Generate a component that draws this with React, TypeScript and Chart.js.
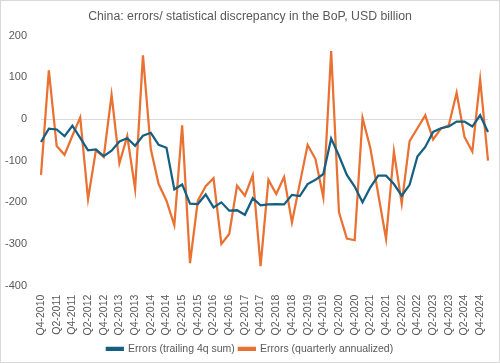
import React, { useEffect, useRef } from "react";
import { Chart, registerables } from "chart.js";

Chart.register(...registerables);

const quarters: string[] = [
  "Q4-2010",
  "Q1-2011", "Q2-2011", "Q3-2011", "Q4-2011",
  "Q1-2012", "Q2-2012", "Q3-2012", "Q4-2012",
  "Q1-2013", "Q2-2013", "Q3-2013", "Q4-2013",
  "Q1-2014", "Q2-2014", "Q3-2014", "Q4-2014",
  "Q1-2015", "Q2-2015", "Q3-2015", "Q4-2015",
  "Q1-2016", "Q2-2016", "Q3-2016", "Q4-2016",
  "Q1-2017", "Q2-2017", "Q3-2017", "Q4-2017",
  "Q1-2018", "Q2-2018", "Q3-2018", "Q4-2018",
  "Q1-2019", "Q2-2019", "Q3-2019", "Q4-2019",
  "Q1-2020", "Q2-2020", "Q3-2020", "Q4-2020",
  "Q1-2021", "Q2-2021", "Q3-2021", "Q4-2021",
  "Q1-2022", "Q2-2022", "Q3-2022", "Q4-2022",
  "Q1-2023", "Q2-2023", "Q3-2023", "Q4-2023",
  "Q1-2024", "Q2-2024", "Q3-2024", "Q4-2024",
  "Q1-2025",
];

const trailing4q: number[] = [
  -55, -23, -25, -41, -16, -45, -75, -73, -89, -76,
  -54, -46, -64, -40, -33, -62, -69, -169, -157, -203,
  -204, -181, -212, -200, -220, -219, -230, -190, -207, -205,
  -204, -205, -182, -185, -156, -146, -132, -47, -88, -134,
  -162, -200, -164, -136, -136, -156, -184, -158, -90, -67,
  -31, -22, -18, -6, -6, -18, 9, -31,
];

const quarterlyAnnualized: number[] = [
  -134, 117, -65, -86, -40, 4, -192, -75, -91, 58,
  -106, -41, -168, 153, -72, -156, -196, -255, -15, -346,
  -196, -161, -142, -300, -276, -160, -184, -135, -353, -146,
  -180, -139, -248, -155, -62, -96, -188, 163, -224, -287,
  -291, 3, -70, -180, -288, -78, -203, -53, -22, 9,
  -49, -23, -15, 63, -43, -78, 95, -100,
];

const titleText = "China: errors/ statistical discrepancy in the BoP, USD billion";
const seriesNames = ["Errors (trailing 4q sum)", "Errors (quarterly annualized)"];
const yMin = -400;
const yMax = 200;
const yStep = 100;

const FONT = "'Liberation Sans', Arial, sans-serif";
const TEXT = "#595959";

export default function App() {
  const ref = useRef<HTMLCanvasElement | null>(null);

  useEffect(() => {
    document.body.style.margin = "0";
    const canvas = ref.current;
    if (!canvas) return;
    const chart = new Chart(canvas, {
      type: "line",
      data: {
        labels: quarters,
        datasets: [
          {
            label: seriesNames[0],
            data: trailing4q,
            borderColor: "#156082",
            backgroundColor: "#156082",
            borderWidth: 2.25,
            pointRadius: 0,
            tension: 0,
          },
          {
            label: seriesNames[1],
            data: quarterlyAnnualized,
            borderColor: "#E97132",
            backgroundColor: "#E97132",
            borderWidth: 2.25,
            pointRadius: 0,
            tension: 0,
          },
        ],
      },
      options: {
        responsive: false,
        animation: false,
        maintainAspectRatio: false,
        layout: { padding: { left: 0, right: 0, top: 0, bottom: -2 } },
        plugins: {
          title: {
            display: true,
            text: titleText,
            color: TEXT,
            font: { family: FONT, size: 12.3, weight: "normal" },
            padding: { top: 8, bottom: 12 },
          },
          legend: {
            position: "bottom",
            labels: {
              color: TEXT,
              font: { family: FONT, size: 10.5 },
              boxWidth: 16,
              boxHeight: 2,
              padding: 4,
            },
          },
          tooltip: { enabled: false },
        },
        scales: {
          x: {
            type: "category",
            offset: false,
            grid: { display: false },
            border: { display: false },
            afterFit: (s: any) => {
              s.paddingRight = 11;
              s.paddingLeft = 0;
              s.height = s.height + 3;
            },
            ticks: {
              autoSkip: false,
              minRotation: 90,
              maxRotation: 90,
              color: TEXT,
              font: { family: FONT, size: 10.5 },
              padding: 1,
              callback: (_v: any, i: number) => (i % 2 === 0 ? quarters[i] : ""),
            },
          },
          y: {
            min: yMin,
            max: yMax,
            border: { display: false },
            afterFit: (s: any) => {
              s.width = 40;
            },
            grid: {
              drawTicks: false,
              color: (c: any) => (c.tick && c.tick.value === 0 ? "#d9d9d9" : "rgba(0,0,0,0)"),
              lineWidth: 1,
            },
            ticks: {
              stepSize: yStep,
              color: TEXT,
              font: { family: FONT, size: 11 },
              padding: 14,
            },
          },
        },
      },
    });
    return () => chart.destroy();
  }, []);

  return (
    <div
      style={{
        position: "absolute",
        left: 0,
        top: 0,
        width: 500,
        height: 363,
        border: "1px solid #d9d9d9",
        boxSizing: "border-box",
        background: "#fff",
      }}
    >
      <canvas ref={ref} width={498} height={361} style={{ display: "block" }} />
    </div>
  );
}
